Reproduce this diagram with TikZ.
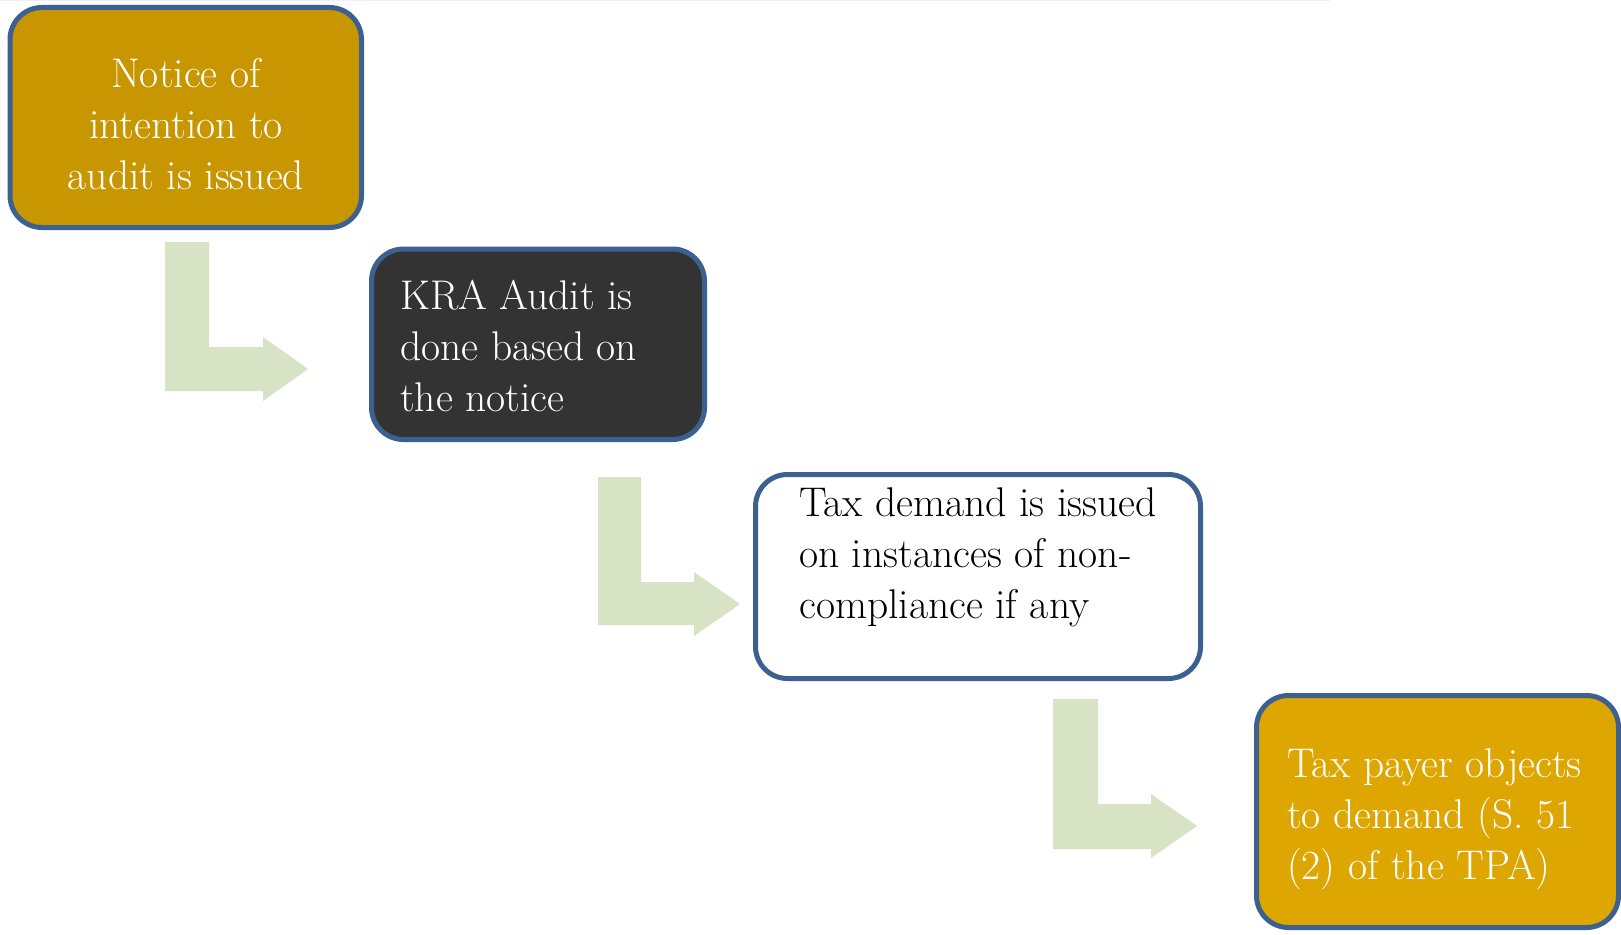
\documentclass[tikz,border=0pt]{standalone}
\usetikzlibrary{positioning}
\definecolor{bordblue}{HTML}{3C6190}
\definecolor{goldA}{HTML}{C89600}
\definecolor{goldB}{HTML}{DDA600}
\definecolor{darkfill}{HTML}{333333}
\definecolor{arrowgreen}{HTML}{D7E3C4}
\definecolor{faint}{HTML}{F0F0F0}
\tikzset{
  flowbox/.style={draw=bordblue, line width=5pt, rounded corners=32pt, inner sep=0pt},
  boxtext/.style={inner sep=0pt, align=left, font={\fontsize{41.5}{51}\selectfont}},
  bentarrow/.style={fill=arrowgreen, draw=none}
}
\newcommand{\firststrut}{\rule{0pt}{34pt}}
\begin{document}
\begin{tikzpicture}[x=1pt,y=-1pt]
\useasboundingbox (0,0) rectangle (1621,934);
\fill[white] (0,0) rectangle (1621,934);
\draw[faint, line width=1.5pt] (0,0.75) -- (1330,0.75);

% boxes
\path[flowbox, fill=goldA] (10,7.5) rectangle (361.5,227.5);
\node[inner sep=0pt, minimum width=351pt, minimum height=220pt] (b1) at (185.75,117.5) {};
\path[flowbox, fill=darkfill] (371.5,249) rectangle (704.5,439.5);
\node[inner sep=0pt, minimum width=333pt, minimum height=190pt] (b2) at (538,344) {};
\path[flowbox, fill=white] (755.5,474.5) rectangle (1200.5,678.5);
\node[inner sep=0pt, minimum width=445pt, minimum height=204pt] (b3) at (978,576.5) {};
\path[flowbox, fill=goldB] (1256.5,695.5) rectangle (1618.5,927.5);
\node[inner sep=0pt, minimum width=362pt, minimum height=232pt] (b4) at (1437.5,811.5) {};

% texts
\node[boxtext, align=center, text=white, anchor=north] (t1) at (186,87-34) {\firststrut Notice of\\intention to\\audit is issued};
\node[boxtext, text=white, anchor=north west] (t2) at (400,309-34) {\firststrut KRA Audit is\\done based on\\the notice};
\node[boxtext, text=black, anchor=north west] (t3) at (799,516-34) {\firststrut Tax demand is issued\\on instances of non-\\compliance if any};
\node[boxtext, text=white, anchor=north west] (t4) at (1287,777-34) {\firststrut Tax payer objects\\to demand (S. 51\\(2) of the TPA)};

% bent arrows
\fill[bentarrow] (165,242) -- (209,242) -- (209,347) -- (263,347) -- (263,337) -- (308,369) -- (263,401) -- (263,391) -- (165,391) -- cycle;
\fill[bentarrow] (598,477) -- (641,477) -- (641,582) -- (694,582) -- (694,572) -- (740,604) -- (694,636) -- (694,625) -- (598,625) -- cycle;
\fill[bentarrow] (1053,699) -- (1098,699) -- (1098,804) -- (1151,804) -- (1151,794) -- (1197,826) -- (1151,858) -- (1151,849) -- (1053,849) -- cycle;
\end{tikzpicture}
\end{document}
